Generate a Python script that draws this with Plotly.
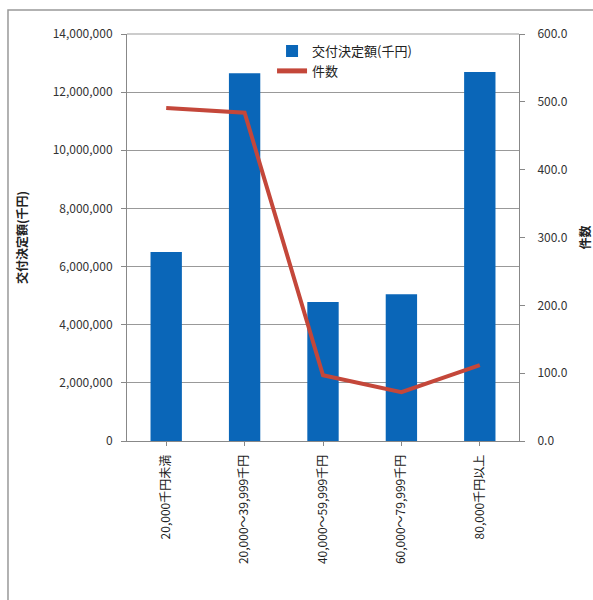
import plotly.graph_objects as go

categories = ["20,000千円未満", "20,000～39,999千円", "40,000～59,999千円", "60,000～79,999千円", "80,000千円以上"]
amounts = [6500000, 12650000, 4780000, 5050000, 12690000]
counts = [491, 484, 97, 72, 112]

FONT = "Noto Sans CJK JP"

fig = go.Figure()
fig.add_trace(go.Bar(x=categories, y=amounts, name="交付決定額(千円)",
                     marker=dict(color="#0A66B8", line=dict(width=0)), width=0.4, yaxis="y"))
fig.add_trace(go.Scatter(x=categories, y=counts, name="件数", mode="lines",
                         line=dict(color="#C4473A", width=4), yaxis="y2"))

fig.update_layout(
    width=593, height=600,
    margin=dict(l=127, r=74, t=34, b=159),
    paper_bgcolor="white", plot_bgcolor="white",
    font=dict(family=FONT, size=12, color="#333"),
    showlegend=True,
    legend=dict(x=0.37, y=0.995, xanchor="left", yanchor="top", bgcolor="rgba(0,0,0,0)",
                font=dict(size=13, color="#222"), tracegroupgap=0, itemsizing="constant"),
    xaxis=dict(type="category", tickangle=-90, showline=True, linecolor="#888", linewidth=1,
               ticks="outside", ticklen=4, tickcolor="#888", showgrid=False, automargin=False,
               tickfont=dict(size=12, color="#222"), mirror=False, ticklabelstandoff=4),
    yaxis=dict(range=[0, 14000000], dtick=2000000, tickformat=",d", showline=True,
               linecolor="#888", linewidth=1, ticks="outside", ticklen=5, tickcolor="#888",
               showgrid=True, gridcolor="#999", gridwidth=1, zeroline=False, automargin=False,
               tickfont=dict(size=12, color="#333"), ticklabelstandoff=6,
               title=dict(text="交付決定額(千円)", font=dict(size=12, color="#222", weight="bold"), standoff=22)),
    yaxis2=dict(range=[0, 600], dtick=100, tickformat=".1f", overlaying="y", side="right",
                showline=True, linecolor="#888", linewidth=1, ticks="outside", ticklen=5,
                tickcolor="#888", showgrid=False, zeroline=False, automargin=False,
                tickfont=dict(size=12, color="#333"), ticklabelstandoff=10,
                title=dict(text="件数", font=dict(size=12, color="#222", weight="bold"), standoff=18)),
    shapes=[
        dict(type="rect", xref="paper", yref="paper", x0=-0.3036, x1=1.3, y0=-0.5, y1=1.059,
             line=dict(color="#999", width=1.5), fillcolor="rgba(0,0,0,0)", layer="below"),
        dict(type="line", xref="paper", yref="paper", x0=0, x1=1, y0=1, y1=1,
             line=dict(color="#999", width=1)),
    ],
)

fig.write_html("out.html")
